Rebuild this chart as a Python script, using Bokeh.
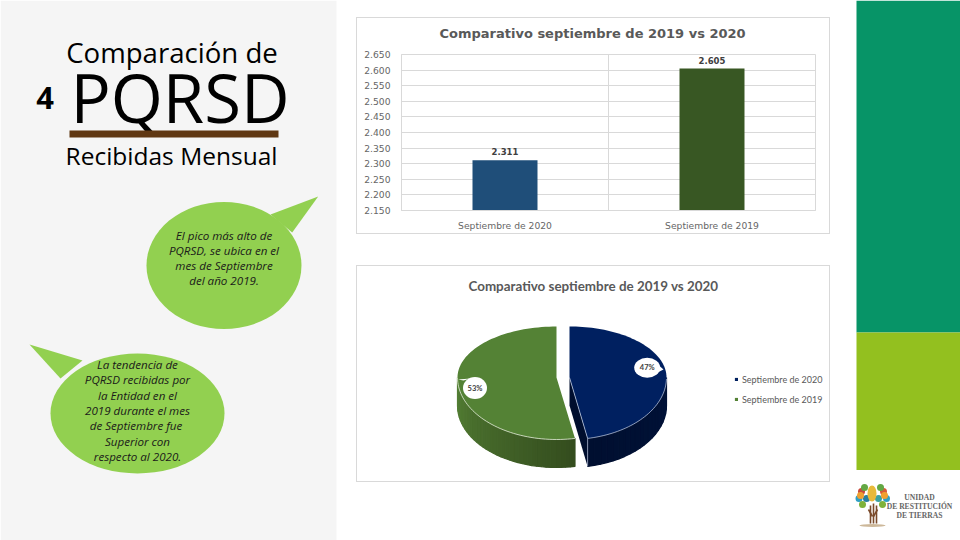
import numpy as np
from bokeh.embed import file_html
from bokeh.resources import INLINE
from bokeh.plotting import figure
from bokeh.layouts import row, column
from bokeh.models import (ColumnDataSource, FactorRange, FixedTicker, Span,
                          Legend, LegendItem, Spacer, Range1d)
from bokeh.core.properties import value

# ---------- data ----------
categories = ["Septiembre de 2020", "Septiembre de 2019"]
bar_values = [2311, 2605]
bar_labels = ["2.311", "2.605"]
bar_colors = ["#1f4e79", "#385723"]
y_ticks = [2150, 2200, 2250, 2300, 2350, 2400, 2450, 2500, 2550, 2600, 2650]
y_tick_labels = ["2.150", "2.200", "2.250", "2.300", "2.350", "2.400", "2.450", "2.500", "2.550", "2.600", "2.650"]
chart_title = "Comparativo septiembre de 2019 vs 2020"
pie_labels = ["47%", "53%"]
heading_top = "Comparación de"
heading_main = "PQRSD"
heading_bottom = "Recibidas Mensual"
heading_number = "4"
note_one = ["El pico más alto de", "PQRSD, se ubica en el", "mes de Septiembre", "del año 2019."]
note_two = ["La tendencia de", "PQRSD recibidas por", "la Entidad en el", "2019 durante el mes",
            "de Septiembre  fue", "Superior con", "respecto al 2020."]
logo_lines = ["UNIDAD", "DE RESTITUCIÓN", "DE TIERRAS"]

PANEL = "#f5f5f5"
BUBBLE = "#92d050"
CARD = "#d9d9d9"
OPEN = value("Open Sans")


def blank(width, height, x0, x1, y0, y1):
    p = figure(width=width, height=height, x_range=(x0, x1), y_range=(y1, y0),
               output_backend="svg", toolbar_location=None, min_border=0)
    p.axis.visible = False
    p.grid.visible = False
    p.outline_line_color = None
    p.background_fill_color = "white"
    p.border_fill_color = "white"
    p.frame_align = False
    return p


def card(fig, w, h):
    """Surround a figure with 1px rules; w and h are the figure's own size."""
    bar = {"background-color": CARD}
    inner = row(Spacer(width=1, height=h, styles=bar), fig, Spacer(width=1, height=h, styles=bar), spacing=0)
    return column(Spacer(width=w + 2, height=1, styles=bar), inner,
                  Spacer(width=w + 2, height=1, styles=bar), spacing=0)


# ---------- left panel: page x 0..356 ----------
L = blank(356, 540, 0, 356, 0, 540)
L.quad(left=[0], right=[336], top=[0], bottom=[540], fill_color=PANEL, line_color=None)


def line_text(p, x, y, txt, size, color="black", style="normal", font=OPEN, align="center"):
    p.text(x=[x], y=[y], text=[txt], text_font=font, text_font_size=size, text_color=color,
           text_font_style=style, text_align=align, text_baseline="middle")


line_text(L, 171.5, 51, heading_top, "27.6px")
line_text(L, 179.5, 96, heading_main, "67px")
line_text(L, 44.5, 97, heading_number, "31px", style="bold")
L.quad(left=[69], right=[278], top=[130], bottom=[137], fill_color="#603813", line_color=None)
line_text(L, 171, 155, heading_bottom, "24.5px")

# speech bubble one
L.patch(x=[270, 317.7, 291.7], y=[214, 196, 232], fill_color=BUBBLE, line_color=None)
L.ellipse(x=[223.5], y=[265], width=155, height=127, fill_color=BUBBLE, line_color=None)
for i, t in enumerate(note_one):
    line_text(L, 223.5, 235 + i * 15.1, t, "11.6px", color="#1a1a1a", style="italic")

# speech bubble two
L.patch(x=[82, 29, 60], y=[360, 344, 378], fill_color=BUBBLE, line_color=None)
L.ellipse(x=[137], y=[413], width=174, height=120, fill_color=BUBBLE, line_color=None)
for i, t in enumerate(note_two):
    line_text(L, 137, 364 + i * 15.35, t, "11.6px", color="#1a1a1a", style="italic")

# ---------- bar chart: title strip page y 18..50, plot y 50..233 ----------
T = blank(472, 32, 357, 829, 18, 50)
T.text(x=[439], y=[33], text=[chart_title], text_font=value("DejaVu Sans"), text_font_size="13px",
       text_font_style="bold", text_color="#595959", text_align="left", text_baseline="middle")

B = figure(width=472, height=183, x_range=FactorRange(factors=categories),
           y_range=Range1d(y_ticks[0], y_ticks[-1]), output_backend="svg", toolbar_location=None,
           min_border_left=44, min_border_right=14, min_border_top=4, min_border_bottom=22)
B.frame_align = False
src = ColumnDataSource(dict(cat=categories, val=bar_values, lab=bar_labels, col=bar_colors))
B.vbar(x="cat", top="val", bottom=y_ticks[0], width=0.314, fill_color="col", line_color=None, source=src)
B.text(x="cat", y="val", text="lab", source=src, text_font=value("DejaVu Sans"), text_font_size="8.5px",
       text_font_style="bold", text_color="#404040", text_align="center", text_baseline="bottom", y_offset=-5)
B.yaxis.ticker = FixedTicker(ticks=y_ticks)
B.yaxis.major_label_overrides = dict(zip(y_ticks, y_tick_labels))
for ax in (B.xaxis[0], B.yaxis[0]):
    ax.major_tick_line_color = None
    ax.minor_tick_line_color = None
    ax.axis_line_color = CARD
    ax.major_label_text_color = "#666666"
    ax.major_label_text_font = "DejaVu Sans"
    ax.major_label_text_font_size = "9.2px"
B.yaxis.major_label_standoff = 5
B.xaxis.major_label_standoff = 3
B.xgrid.visible = False
B.ygrid.grid_line_color = CARD
B.outline_line_color = CARD
B.add_layout(Span(location=1, dimension="height", line_color=CARD, line_width=1))

# ---------- pie chart: page x 356..830, y 265..482 ----------
P = blank(472, 215, 357, 829, 266, 481)
P.text(x=[468], y=[285], text=[chart_title], text_font=value("Lato"), text_font_size="13.4px",
       text_font_style="bold", text_color="#595959", text_align="left", text_baseline="middle")

fractions = np.array(bar_values, dtype=float) / sum(bar_values)
split = 2 * np.pi * fractions[0]
DEPTH = 28.0
APEX_Y = 377.0


def rim(cx, rx, t):
    t = np.asarray(t, dtype=float)
    ry = np.where(np.cos(t) > 0, 51.0, 62.0)
    return cx + rx * np.sin(t), APEX_Y - ry * np.cos(t)


def mix(a, b, f):
    ca = [int(a[i:i + 2], 16) for i in (1, 3, 5)]
    cb = [int(b[i:i + 2], 16) for i in (1, 3, 5)]
    return "#%02x%02x%02x" % tuple(round(u + (v - u) * f) for u, v in zip(ca, cb))


def wall(cx, rx, t0, t1, c0, c1, n=36):
    edges = np.linspace(t0, t1, n + 1)
    for i in range(n):
        x, y = rim(cx, rx, edges[i:i + 2])
        c = mix(c0, c1, i / (n - 1))
        P.patch(x=[x[0], x[1], x[1], x[0]], y=[y[0], y[1], y[1] + DEPTH, y[0] + DEPTH],
                fill_color=c, line_color=c, line_width=1.2)


BLUE_X, BLUE_R, GREEN_X, GREEN_R = 569.0, 97.0, 556.0, 99.0

# walls (dark sides)
wall(GREEN_X, GREEN_R, split, 1.5 * np.pi, "#344d1e", "#537e34")
wall(BLUE_X, BLUE_R, np.pi / 2, split, "#001238", "#000f30", n=20)
ex, ey = rim(BLUE_X, BLUE_R, split)
P.patch(x=[BLUE_X, float(ex), float(ex), BLUE_X], y=[APEX_Y, float(ey), float(ey) + DEPTH, APEX_Y + DEPTH],
        fill_color="#000e2e", line_color=None)

# top faces
tb = np.linspace(0, split, 90)
xb, yb = rim(BLUE_X, BLUE_R, tb)
top_blue = P.patch(x=[BLUE_X, *xb], y=[APEX_Y, *yb], fill_color="#002060", line_color=None)
tg = np.linspace(split, 2 * np.pi, 90)
xg, yg = rim(GREEN_X, GREEN_R, tg)
top_green = P.patch(x=[GREEN_X, *xg], y=[APEX_Y, *yg], fill_color="#548235", line_color=None)

# thin light rim lines
P.line(x=xb[tb >= np.pi / 2], y=yb[tb >= np.pi / 2], line_color="#c9d4ea", line_width=0.7)
P.line(x=xg[tg <= 1.5 * np.pi], y=yg[tg <= 1.5 * np.pi], line_color="#e6efdc", line_width=0.8)
P.line(x=[BLUE_X, float(ex), float(ex)], y=[APEX_Y, float(ey), float(ey) + DEPTH], line_color="#c9d4ea", line_width=0.7)

# callouts
P.patch(x=[655, 663, 655], y=[362, 369, 373], fill_color="white", line_color=None)
P.ellipse(x=[646.7], y=[367.3], width=26, height=20, fill_color="white", line_color=None)
P.patch(x=[463, 457.5, 470], y=[380, 379, 378], fill_color="white", line_color=None)
P.ellipse(x=[474.5], y=[387.5], width=24, height=22, fill_color="white", line_color=None)
P.text(x=[646.7, 474.5], y=[367.3, 387.5], text=pie_labels, text_font=value("Lato"),
       text_font_size="7.5px", text_font_style="bold", text_color="#404040", text_align="center",
       text_baseline="middle")

legend = Legend(items=[LegendItem(label=categories[0], renderers=[top_blue]),
                       LegendItem(label=categories[1], renderers=[top_green])],
                location=(377, 72), padding=0, margin=0, spacing=0, glyph_width=4, glyph_height=4,
                label_height=20, label_standoff=4, label_text_font="Lato",
                label_text_font_size="9px", label_text_color="#595959",
                background_fill_alpha=0, border_line_color=None)
P.add_layout(legend)

# ---------- right strip: page x 830..960 ----------
R = blank(130, 540, 830, 960, 0, 540)
R.quad(left=[856], right=[960], top=[0], bottom=[332], fill_color="#079467", line_color=None)
R.quad(left=[856], right=[960], top=[332], bottom=[469.5], fill_color="#93c01f", line_color=None)
# logo: crown of coloured leaves, trunk and ground
R.ellipse(x=[872], y=[525], width=26, height=3, fill_color="#cdb89a", line_color=None)
R.multi_line(xs=[[870, 870], [873, 873], [876, 876], [868, 872], [877, 873]],
             ys=[[505, 523], [503, 523], [505, 523], [509, 516], [509, 516]], line_color="#7a4a2a", line_width=1.6)
R.scatter(x=[861, 883, 858.5, 886, 862, 882, 864, 880, 866, 878, 860, 884],
          y=[491, 491, 498, 498, 504, 504, 487, 487, 498, 498, 495, 495], size=7, line_color=None,
          fill_color=["#c94a3a", "#d65a3a", "#2f9fc4", "#2f9fc4", "#7fb23a", "#7fb23a",
                      "#63a844", "#63a844", "#2a7f9f", "#3aa0a0", "#f0a030", "#f0a030"])
R.ellipse(x=[871.5], y=[493], width=9, height=16, fill_color="#e8b93a", line_color=None)
for y, t in zip([497, 505.5, 515], logo_lines):
    line_text(R, 919, y, t, "7.6px", color="#666666", style="bold", font=value("Liberation Serif"))

bar_card = card(column(T, B, spacing=0), 472, 215)
middle = column(Spacer(width=474, height=17), bar_card, Spacer(width=474, height=31),
                card(P, 472, 215), Spacer(width=474, height=58), spacing=0)
page = row(L, middle, R, spacing=0)

open("out.html", "w").write(file_html(page, INLINE))
